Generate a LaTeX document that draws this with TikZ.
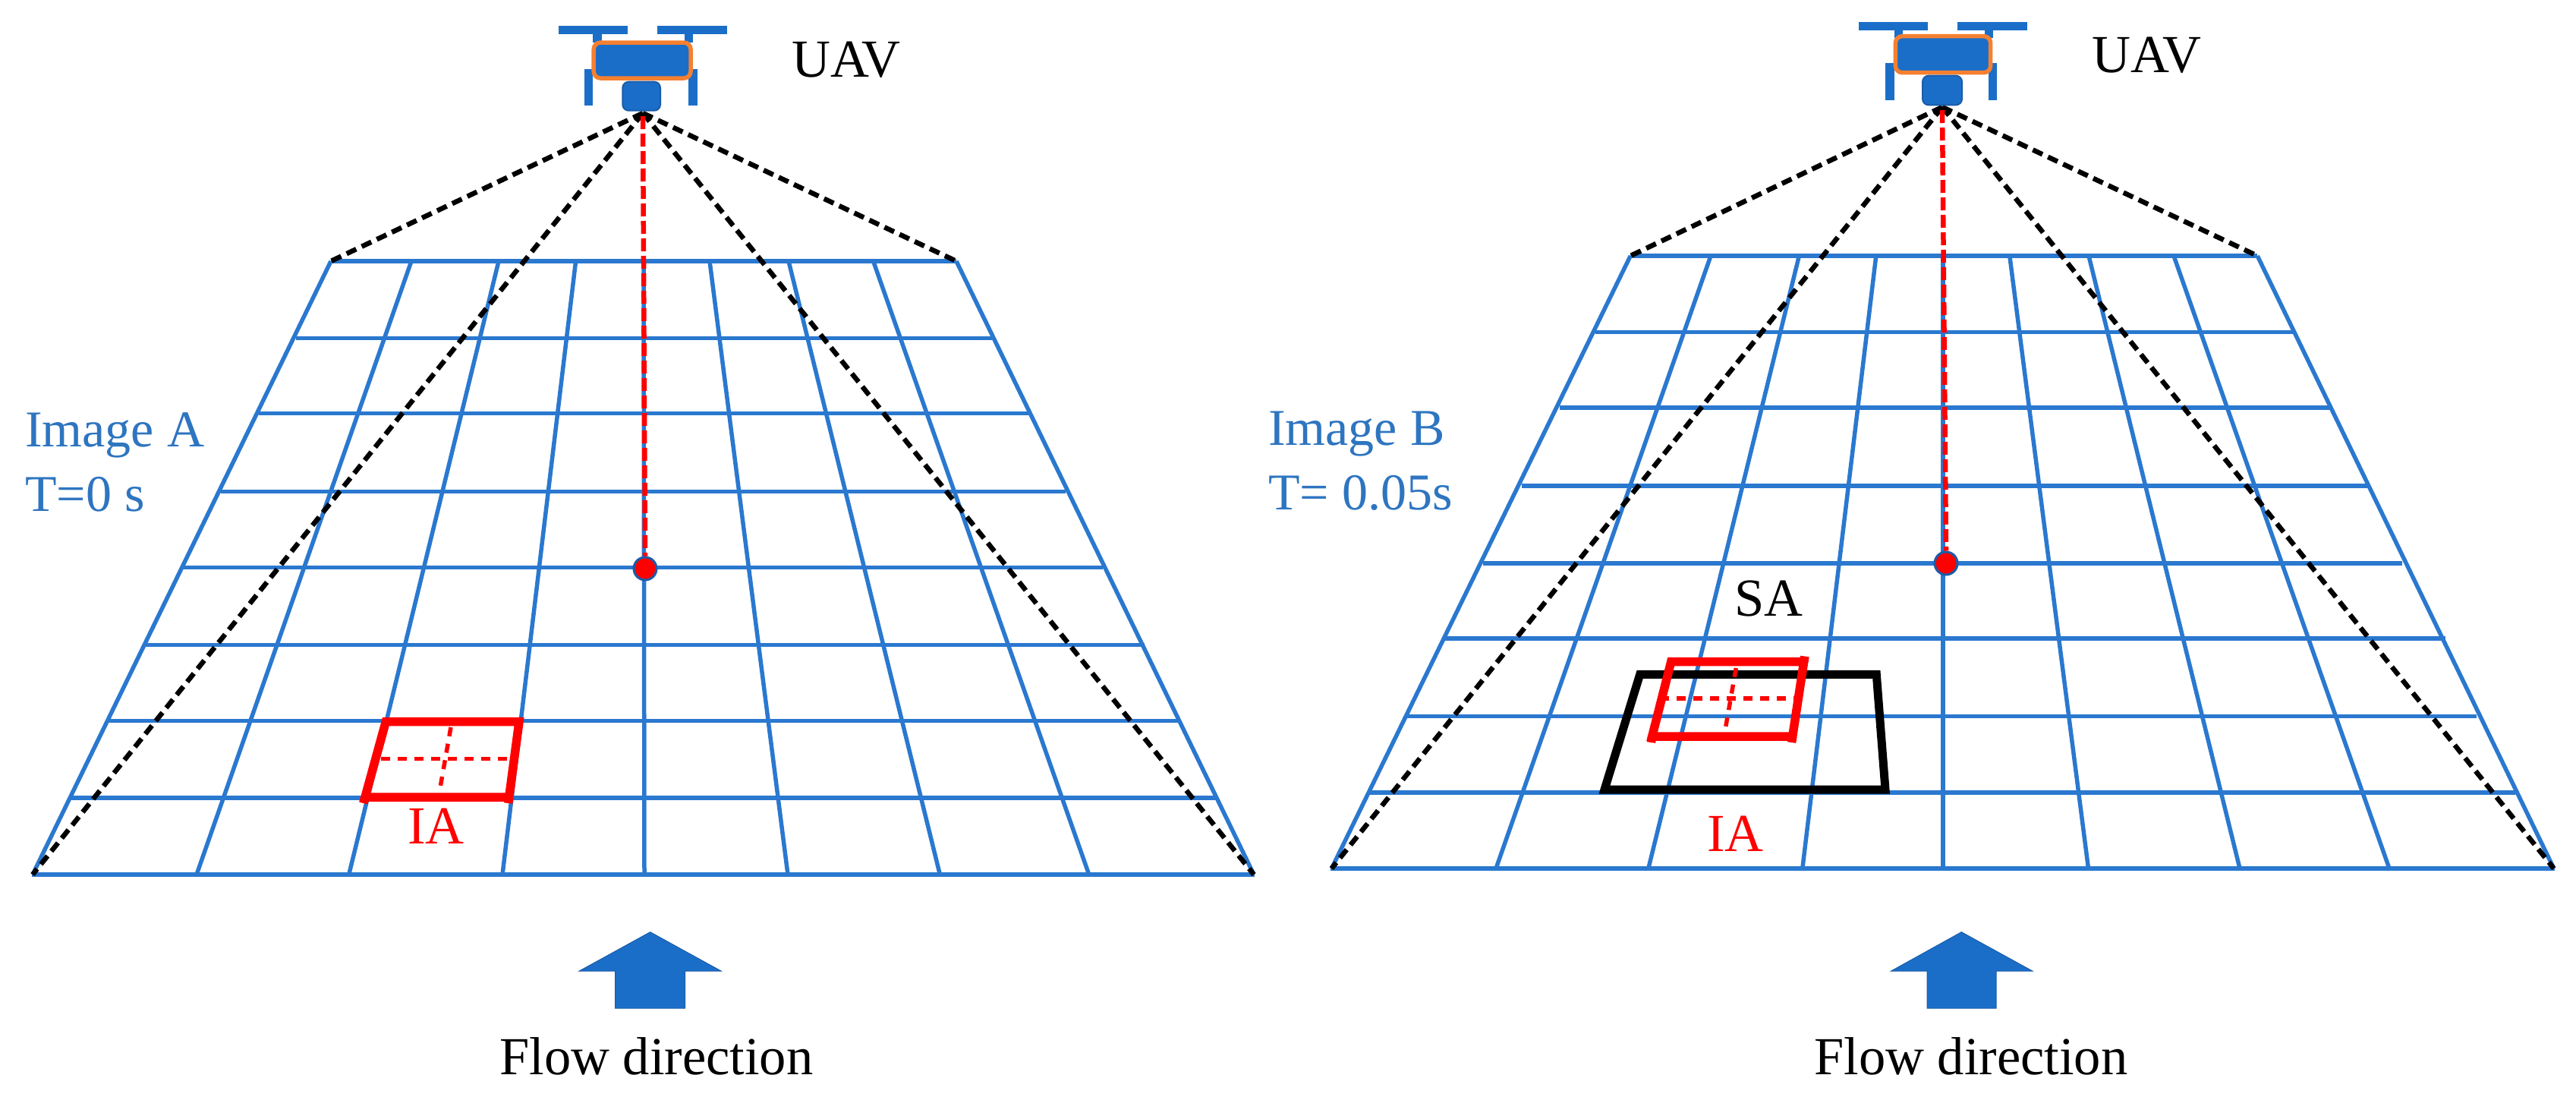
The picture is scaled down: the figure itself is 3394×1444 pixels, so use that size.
\documentclass[tikz,border=0pt]{standalone}
\usepackage{fontspec}
\setmainfont{Liberation Serif}
\definecolor{gridblue}{HTML}{2A78CF}
\definecolor{uavblue}{HTML}{1B6EC8}
\definecolor{camedge}{HTML}{1A5CA8}
\definecolor{txtblue}{HTML}{2E75C0}
\definecolor{bodyedge}{HTML}{F58030}
\definecolor{redc}{HTML}{FF0000}
\tikzset{
  gridline/.style={draw=gridblue,line width=5.5pt},
  gridbase/.style={draw=gridblue,line width=6.5pt},
  fov/.style={draw=black,line width=6.5pt,dash pattern=on 14pt off 8pt},
  axis/.style={draw=redc,line width=6.5pt,dash pattern=on 17pt off 6pt},
  boxred/.style={draw=redc,line width=11.5pt},
  boxblack/.style={draw=black,line width=11pt},
  cross/.style={draw=redc,line width=5.5pt,dash pattern=on 12pt off 10pt},
  dronepart/.style={fill=uavblue,draw=none},
  bodybox/.style={fill=uavblue,draw=bodyedge,line width=5.5pt,rounded corners=9pt},
  cambox/.style={fill=uavblue,draw=camedge,line width=2pt,rounded corners=8pt},
  centredot/.style={circle,fill=redc,draw=camedge,line width=3pt,minimum size=30pt,inner sep=0pt},
  flowarrow/.style={fill=uavblue,draw=camedge,line width=1pt},
  lbl/.style={anchor=base west,inner sep=0pt,font=\fontsize{70.5}{85}\selectfont},
  lblblue/.style={lbl,text=txtblue,font=\fontsize{68}{82}\selectfont}
}
\begin{document}
\begin{tikzpicture}[x=1pt,y=-1pt]
\useasboundingbox[fill=white] (0,0) rectangle (3394,1444);
% ---------- Panel A grid
\foreach \y/\l/\r in {344/436/1260,445.6/389.5/1310,544.4/341/1355,647.5/290.7/1404,747.3/241.4/1453,849.3/190.9/1508,949.7/141.5/1552,1051.2/90.5/1601.5}
  \draw[gridline] (\l,\y) -- (\r,\y);
\draw[gridbase] (42,1152) -- (1653,1152);
\foreach \t/\b in {436/43,542/259,657/459.7,758.6/662,848/849,935/1038,1039/1238.4,1150.6/1434.8,1260/1652}
  \draw[gridline] (\t,344) -- (\b,1152);
% ---------- Panel B grid
\foreach \y/\l/\r in {337/2148.2/2974.2,437.4/2101.6/3022,537.2/2055/3070,639.8/2004.5/3119,741.8/1953.5/3164.5,841/1903/3222,943.7/1853/3263,1044/1801.5/3313.7}
  \draw[gridline] (\l,\y) -- (\r,\y);
\draw[gridbase] (1753,1144) -- (3366,1144);
\foreach \t/\b in {2148.2/1754.4,2254/1971,2370.4/2171.8,2471.8/2374.8,2560/2560,2647.8/2751.5,2752/2951,2864/3148,2974.2/3364.8}
  \draw[gridline] (\t,337) -- (\b,1144);
% ---------- Panel A view cone
\coordinate (apexA) at (847,149);
\coordinate (tlA) at (436,344);
\coordinate (trA) at (1260,344);
\coordinate (blA) at (43,1152);
\coordinate (brA) at (1652,1152);
\foreach \c in {tlA,trA,blA,brA} \draw[fov] (apexA) -- (\c);
\node[centredot] (dotA) at (850,749) {};
\draw[axis] (847,153) -- (dotA.north);
% ---------- Panel B view cone
\coordinate (apexB) at (2559,141);
\coordinate (tlB) at (2148.2,337);
\coordinate (trB) at (2974.2,337);
\coordinate (blB) at (1754.4,1144);
\coordinate (brB) at (3364.8,1144);
\foreach \c in {tlB,trB,blB,brB} \draw[fov] (apexB) -- (\c);
\node[centredot] (dotB) at (2564,742) {};
\draw[axis] (2559,145) -- (dotB.north);
% ---------- UAV A
\fill[dronepart] (735.5,34.3) rectangle (827.3,45);
\fill[dronepart] (865.6,34.3) rectangle (957.5,45);
\fill[dronepart] (781.4,45) rectangle (792.9,56);
\fill[dronepart] (902,45) rectangle (913.4,56);
\fill[dronepart] (769.5,90.7) rectangle (781,139.3);
\fill[dronepart] (907.3,90.7) rectangle (919.2,139.3);
\draw[bodybox] (782.2,56) rectangle (910,103);
\draw[cambox] (820.3,107.7) rectangle (870,145.7);
% ---------- UAV B
\fill[dronepart] (2448.7,29) rectangle (2540.3,40);
\fill[dronepart] (2579,29) rectangle (2670.7,40);
\fill[dronepart] (2496,40) rectangle (2506.7,50);
\fill[dronepart] (2615,40) rectangle (2625.7,50);
\fill[dronepart] (2484.3,83.3) rectangle (2495.7,132);
\fill[dronepart] (2620,83.3) rectangle (2631,132);
\draw[bodybox] (2497.3,47.7) rectangle (2622.7,95.7);
\draw[cambox] (2533,99.7) rectangle (2585,138.3);
% ---------- Image A interrogation area
\draw[cross] (501.7,999.3) -- (678,999.3);
\draw[cross] (594,958) -- (579,1043);
\draw[boxred] (508.3,950.7) -- (684,950.7) -- (670.7,1050) -- (481,1050) -- cycle;
\draw[boxred] (481,1050) -- (478.8,1058);
\draw[boxred] (670.7,1050) -- (669.6,1058);
% ---------- Image B search and interrogation areas
\draw[boxblack] (2160.7,888.3) -- (2472.3,888.3) -- (2484,1040) -- (2114,1040) -- cycle;
\draw[cross] (2187,920) -- (2372,920);
\draw[cross] (2287.3,880) -- (2272.7,963);
\draw[boxred] (2201.7,871.7) -- (2376.7,871.7) -- (2361.7,970) -- (2176.7,970) -- cycle;
\draw[boxred] (2176.7,970) -- (2175.5,978);
\draw[boxred] (2361.7,970) -- (2360.5,978);
\draw[boxred] (2376.7,871.7) -- (2377.7,864.5);
% ---------- Flow arrows
\draw[flowarrow] (856.7,1227.7) -- (950,1279) -- (902.7,1279) -- (902.7,1328) -- (810.7,1328) -- (810.7,1279) -- (763.3,1279) -- cycle;
\draw[flowarrow] (2584.3,1227.7) -- (2677.7,1279) -- (2630,1279) -- (2630,1328) -- (2539,1328) -- (2539,1279) -- (2491.7,1279) -- cycle;
% ---------- Labels
\node[lbl] (uavA) at (1043,101.7) {UAV};
\node[lbl] (uavB) at (2756,95) {UAV};
\node[lbl,text=redc] (iaA) at (537,1111.7) {IA};
\node[lbl,text=redc] (iaB) at (2249,1121) {IA};
\node[lbl] (saB) at (2285,811.7) {SA};
\node[lblblue] (imgA) at (33,588.8) {Image A};
\node[lblblue] (tA) at (33,673.8) {T=0 s};
\node[lblblue] (imgB) at (1671,586) {Image B};
\node[lblblue] (tB) at (1671,671) {T= 0.05s};
\node[lbl] (flowA) at (658,1415) {Flow direction};
\node[lbl] (flowB) at (2390,1415) {Flow direction};
\end{tikzpicture}
\end{document}
